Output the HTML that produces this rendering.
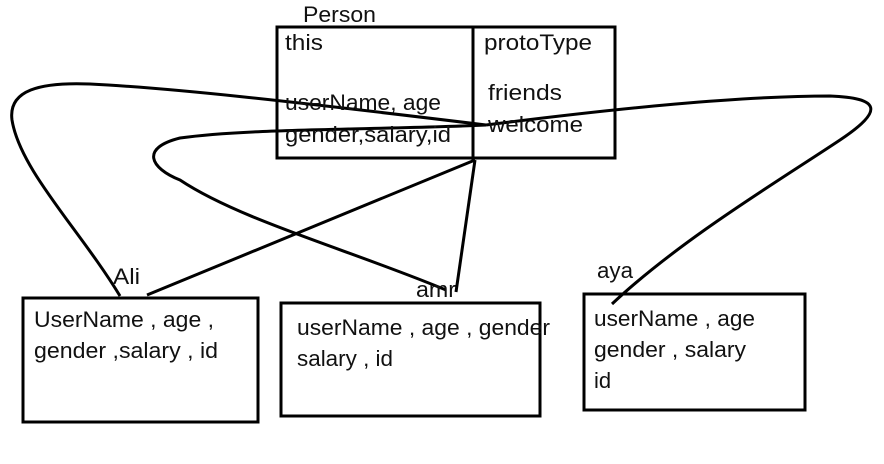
<!DOCTYPE html>
<html><head><style>
html,body{margin:0;padding:0;background:#fff;}
svg{display:block;}
text{font-family:"Liberation Sans",sans-serif;font-size:22px;fill:#111;}
</style></head><body>
<svg width="884" height="464" viewBox="0 0 884 464" xmlns="http://www.w3.org/2000/svg">
<g fill="none" stroke="#000" stroke-width="3">
<rect x="277" y="27" width="338" height="131"/>
<line x1="473" y1="27" x2="473" y2="160"/>
<rect x="23" y="298" width="235" height="124"/>
<rect x="281" y="303" width="259" height="113"/>
<rect x="584" y="294" width="221" height="116"/>
<line x1="475" y1="160" x2="147" y2="295"/>
<line x1="475" y1="160" x2="456" y2="292"/>
<path d="M120,296 C80,230 20,170 12,120 C8,90 40,82 90,84 C170,88 280,100 486,125"/>
<path d="M486,125 C380,130 250,128 180,138 C140,148 150,168 180,180 C240,220 350,250 446,290"/>
<path d="M612,304 C680,240 780,180 840,140 C885,110 880,98 830,96 C740,96 620,108 486,125"/>
</g>
<g lengthAdjust="spacingAndGlyphs">
<text x="303" y="22" textLength="73" lengthAdjust="spacingAndGlyphs">Person</text>
<text x="285" y="50" textLength="38" lengthAdjust="spacingAndGlyphs">this</text>
<text x="484" y="50" textLength="108" lengthAdjust="spacingAndGlyphs">protoType</text>
<text x="488" y="100" textLength="74" lengthAdjust="spacingAndGlyphs">friends</text>
<text x="488" y="132" textLength="95" lengthAdjust="spacingAndGlyphs">welcome</text>
<text x="285" y="110" textLength="156" lengthAdjust="spacingAndGlyphs">userName, age</text>
<text x="285" y="142" textLength="166" lengthAdjust="spacingAndGlyphs">gender,salary,id</text>
<text x="113" y="284" textLength="27" lengthAdjust="spacingAndGlyphs">Ali</text>
<text x="416" y="297" textLength="40" lengthAdjust="spacingAndGlyphs">amr</text>
<text x="597" y="278" textLength="36" lengthAdjust="spacingAndGlyphs">aya</text>
<text x="34" y="327" textLength="180" lengthAdjust="spacingAndGlyphs">UserName , age ,</text>
<text x="34" y="358" textLength="184" lengthAdjust="spacingAndGlyphs">gender ,salary , id</text>
<text x="297" y="335" textLength="253" lengthAdjust="spacingAndGlyphs">userName , age , gender</text>
<text x="297" y="366" textLength="96" lengthAdjust="spacingAndGlyphs">salary , id</text>
<text x="594" y="326" textLength="161" lengthAdjust="spacingAndGlyphs">userName , age</text>
<text x="594" y="357" textLength="152" lengthAdjust="spacingAndGlyphs">gender , salary</text>
<text x="594" y="388">id</text>
</g>
</svg>
</body></html>
